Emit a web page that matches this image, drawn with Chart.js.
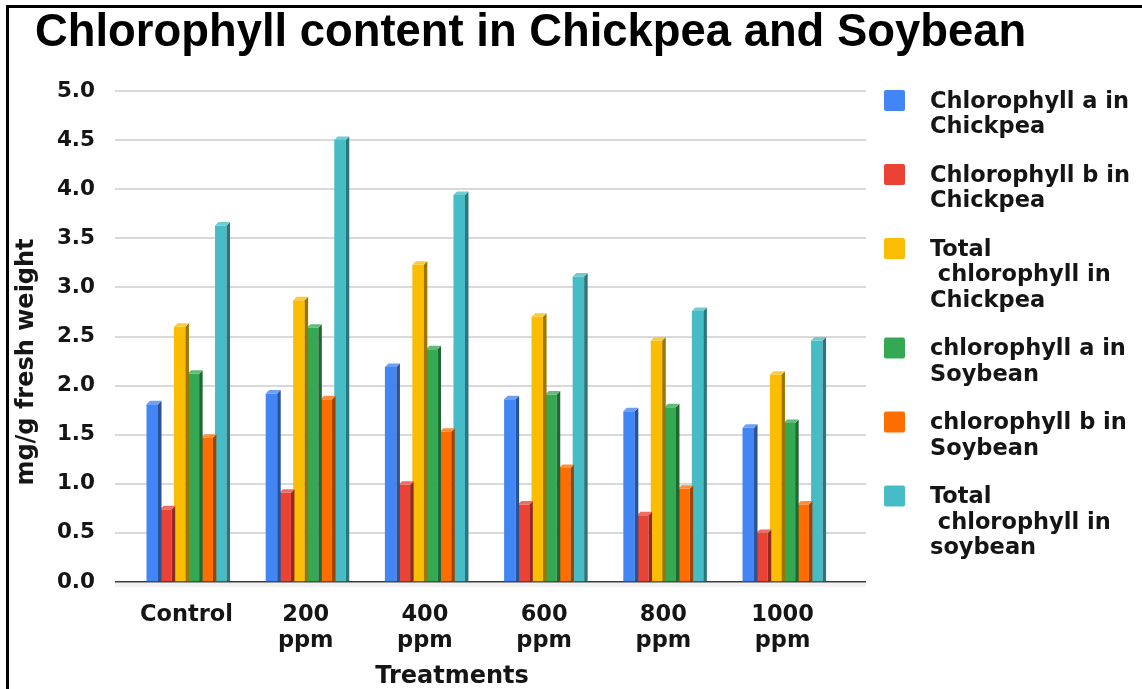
<!DOCTYPE html>
<html>
<head>
<meta charset="utf-8">
<script src="https://cdn.jsdelivr.net/npm/chart.js@4.4.1/dist/chart.umd.min.js"></script>
<style>
  html, body { margin: 0; padding: 0; background: #ffffff; }
  #wrap { position: relative; width: 1142px; height: 689px; overflow: hidden; background: #ffffff; }
  #frame { position: absolute; left: 6px; top: 5px; width: 1200px; height: 800px;
           border-top: 3px solid #000; border-left: 3px solid #000; pointer-events: none; }
  canvas { display: block; }
</style>
</head>
<body>
<div id="wrap">
  <canvas id="chart" width="1142" height="689"></canvas>
  <div id="frame"></div>
</div>
<script>
// Chart text
const chartTitle = 'Chlorophyll content in Chickpea and Soybean';
const yAxisTitle = 'mg/g fresh weight';
const xAxisTitle = 'Treatments';

// Treatments along the x axis (one array of lines per label)
const treatments = [['Control'], ['200', 'ppm'], ['400', 'ppm'], ['600', 'ppm'], ['800', 'ppm'], ['1000', 'ppm']];

// Series names (legend lines separated by \n)
const seriesNames = [
  'Chlorophyll a in\nChickpea',
  'Chlorophyll b in\nChickpea',
  'Total\n chlorophyll in\nChickpea',
  'chlorophyll a in\nSoybean',
  'chlorophyll b in\nSoybean',
  'Total\n chlorophyll in\nsoybean'
];

// Values in mg/g fresh weight, per treatment
const chlAChickpea     = [1.81, 1.92, 2.19, 1.86, 1.74, 1.57];
const chlBChickpea     = [0.74, 0.91, 0.99, 0.79, 0.68, 0.50];
const totalChickpea    = [2.60, 2.87, 3.23, 2.70, 2.46, 2.11];
const chlASoybean      = [2.12, 2.59, 2.37, 1.91, 1.78, 1.62];
const chlBSoybean      = [1.47, 1.86, 1.53, 1.16, 0.95, 0.79];
const totalSoybean     = [3.63, 4.50, 3.94, 3.11, 2.76, 2.46];
const seriesValues = [chlAChickpea, chlBChickpea, totalChickpea, chlASoybean, chlBSoybean, totalSoybean];

// Y axis ticks
const yTicks = [0, 0.5, 1.0, 1.5, 2.0, 2.5, 3.0, 3.5, 4.0, 4.5, 5.0];

const seriesColors = ['#4285F4', '#EA4335', '#FBBC04', '#34A853', '#FF6D01', '#46BDC6'];

const TEXT = '#151515';
const SMALL_FONT = 'DejaVu Sans';
const TITLE_FONT = 'Liberation Sans';

function shade(hex, f) {
  const n = parseInt(hex.slice(1), 16);
  const r = (n >> 16) & 255, g = (n >> 8) & 255, b = n & 255;
  const mix = (c) => f < 0 ? Math.round(c * (1 + f)) : Math.round(c + (255 - c) * f);
  return `rgb(${mix(r)},${mix(g)},${mix(b)})`;
}

// Side and top faces that give each bar its raised look
const bevelPlugin = {
  id: 'bevel',
  afterDatasetDraw(chart, args) {
    const { ctx } = chart;
    const meta = args.meta;
    const color = seriesColors[args.index];
    const d = 3.5;
    ctx.save();
    meta.data.forEach((bar) => {
      const p = bar.getProps(['x', 'y', 'base', 'width'], true);
      const l = p.x - p.width / 2, r = p.x + p.width / 2;
      ctx.fillStyle = shade(color, -0.38);
      ctx.beginPath();
      ctx.moveTo(r, p.y); ctx.lineTo(r + d, p.y - d); ctx.lineTo(r + d, p.base); ctx.lineTo(r, p.base);
      ctx.closePath(); ctx.fill();
      ctx.fillStyle = shade(color, 0.22);
      ctx.beginPath();
      ctx.moveTo(l, p.y); ctx.lineTo(l + d, p.y - d); ctx.lineTo(r + d, p.y - d); ctx.lineTo(r, p.y);
      ctx.closePath(); ctx.fill();
    });
    ctx.restore();
  }
};

// Baseline shadow, chart title, axis titles and the multi-line legend
const decorPlugin = {
  id: 'decor',
  beforeDatasetsDraw(chart) {
    const { ctx, chartArea } = chart;
    const y0 = chart.scales.y.getPixelForValue(0);
    ctx.save();
    ctx.fillStyle = 'rgba(0,0,0,0.05)';
    ctx.fillRect(chartArea.left, y0 + 1, chartArea.right - chartArea.left, 4);
    ctx.restore();
  },
  afterDraw(chart) {
    const { ctx } = chart;
    ctx.save();
    ctx.fillStyle = '#000';
    ctx.font = `bold 45.4px "${TITLE_FONT}"`;
    ctx.textAlign = 'left';
    ctx.textBaseline = 'alphabetic';
    ctx.fillText(chartTitle, 35, 46);

    ctx.fillStyle = TEXT;
    ctx.font = `bold 24px "${SMALL_FONT}"`;
    ctx.textAlign = 'center';
    ctx.textBaseline = 'middle';
    ctx.fillText(xAxisTitle, 452, 677);

    ctx.save();
    ctx.translate(27, 362);
    ctx.rotate(-Math.PI / 2);
    ctx.fillText(yAxisTitle, 0, 0);
    ctx.restore();

    // legend
    const lineH = 25.5, sq = 21, gap = 23;
    let top = 90;
    ctx.font = `bold 22.5px "${SMALL_FONT}"`;
    ctx.textAlign = 'left';
    chart.data.datasets.forEach((ds, i) => {
      ctx.fillStyle = seriesColors[i];
      ctx.beginPath();
      ctx.roundRect(884, top, sq, sq, 2);
      ctx.fill();
      ctx.fillStyle = TEXT;
      const lines = ds.label.split('\n');
      lines.forEach((ln, j) => ctx.fillText(ln, 930, top + 12 + j * lineH));
      top += lines.length * lineH + gap;
    });
    ctx.restore();
  }
};

const ctx = document.getElementById('chart').getContext('2d');
new Chart(ctx, {
  type: 'bar',
  data: {
    datasets: seriesNames.map((name, k) => ({
      label: name,
      data: seriesValues[k].map((v, i) => ({ x: i, y: v })),
      backgroundColor: seriesColors[k],
      borderWidth: 0,
      categoryPercentage: 0.69,
      barPercentage: 0.84
    }))
  },
  options: {
    responsive: false,
    animation: false,
    devicePixelRatio: 1,
    layout: { padding: { left: 0, right: 276, top: 91, bottom: 0 } },
    plugins: { legend: { display: false }, title: { display: false }, tooltip: { enabled: false } },
    scales: {
      x: {
        type: 'linear',
        offset: false,
        min: -0.6,
        max: 5.7,
        afterBuildTicks: (s) => { s.ticks = treatments.map((_, i) => ({ value: i })); },
        afterFit: (s) => { s.height = 107; },
        ticks: {
          autoSkip: false, maxRotation: 0, padding: 20, color: TEXT,
          font: { family: SMALL_FONT, size: 22.5, weight: 'bold', lineHeight: 1.17 },
          callback: (v) => treatments[v]
        },
        grid: { display: false, drawTicks: false },
        border: { display: false }
      },
      y: {
        min: 0,
        max: 5,
        afterBuildTicks: (s) => { s.ticks = yTicks.map((v) => ({ value: v })); },
        afterFit: (s) => { s.width = 115; },
        ticks: {
          padding: 20, color: TEXT,
          font: { family: SMALL_FONT, size: 21.5, weight: 'bold' },
          callback: (v) => Number(v).toFixed(1)
        },
        grid: {
          drawTicks: false,
          color: (c) => c.tick && c.tick.value === 0 ? '#3a3a3a' : '#d9d9d9',
          lineWidth: (c) => c.tick && c.tick.value === 0 ? 1.6 : 2
        },
        border: { display: false }
      }
    }
  },
  plugins: [bevelPlugin, decorPlugin]
});
</script>
</body>
</html>
